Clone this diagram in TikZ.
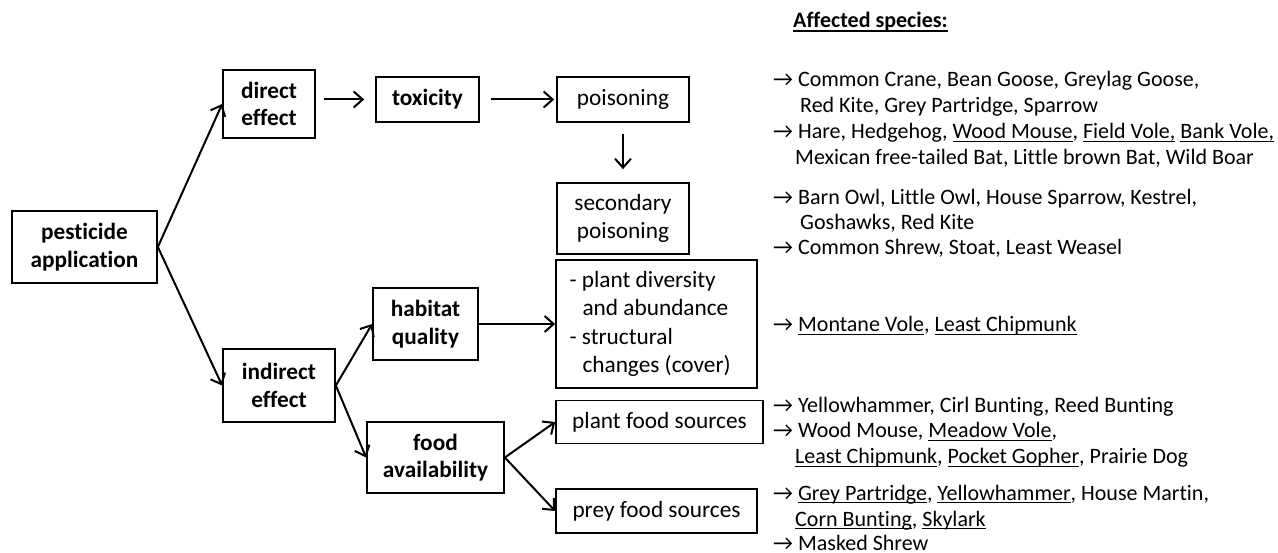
\documentclass[tikz,border=0pt]{standalone}
\usepackage{fontspec}
\setmainfont{Carlito}[Ligatures=NoCommon]
\usetikzlibrary{arrows.meta}
\newcommand\ulx[1]{\setbox0\hbox{#1}\rlap{\rule[-3.3pt]{\wd0}{1.3pt}}\box0\relax}
\newcommand\ulb[1]{\setbox0\hbox{#1}\rlap{\rule[-4pt]{\wd0}{1.8pt}}\box0\relax}
\newcommand\ra{→}
\begin{document}
\begin{tikzpicture}[x=1pt,y=-1pt,
  box/.style={draw, line width=1.7pt, inner sep=0pt, align=center, font=\fontsize{23.3}{27.5}\selectfont},
  bbox/.style={box, font=\fontsize{23.3}{27.5}\selectfont\bfseries},
  arr/.style={line width=2pt, -{Straight Barb[length=9pt,width=16pt]}},
  sp/.style={anchor=base west, inner sep=0pt, font=\fontsize{22}{26}\selectfont}]
\useasboundingbox (0,0) rectangle (1278,553);
% boxes
\node[bbox, minimum width=145pt, minimum height=72pt] (pest) at (84.5,247) {pesticide\\application};
\node[bbox, minimum width=92pt, minimum height=68pt] (direct) at (269,104) {direct\\effect};
\node[bbox, minimum width=103pt, minimum height=45pt] (tox) at (427.5,99.5) {toxicity};
\node[box, minimum width=132pt, minimum height=45pt] (pois) at (623,99.5) {poisoning};
\node[box, minimum width=132pt, minimum height=71pt] (sec) at (623,218.5) {secondary\\poisoning};
\node[bbox, minimum width=105pt, minimum height=72pt] (hab) at (425.5,324) {habitat\\quality};
\node[bbox, minimum width=112pt, minimum height=73pt] (ind) at (279,385.5) {indirect\\effect};
\node[bbox, minimum width=137pt, minimum height=71pt] (food) at (435.5,457.5) {food\\availability};
\node[box, font=\fontsize{23.3}{28.3}\selectfont, align=flush left, text width=174pt, inner xsep=13.5pt, minimum height=128pt] (pd) at (656.5,324)
  {- plant diversity\\\hspace*{13pt}and abundance\\- structural\\\hspace*{13pt}changes (cover)};
\node[box, minimum width=207pt, minimum height=43pt] (pfood) at (659.5,422) {plant food sources};
\node[box, minimum width=201pt, minimum height=44pt] (prey) at (656.5,511) {prey food sources};
% connectors
\draw[arr] (pest.east) -- (direct.west);
\draw[arr] (pest.east) -- (ind.west);
\draw[arr, shorten <=8pt, shorten >=11pt] (direct.east |- tox.west) -- (tox.west);
\draw[arr, shorten <=11pt, shorten >=2pt] (tox.east) -- (pois.west);
\draw[arr, shorten <=11pt, shorten >=13pt] (pois.south) -- (sec.north);
\draw[arr] (hab.east) -- (pd.west);
\draw[arr] (ind.east) -- (hab.west);
\draw[arr] (ind.east) -- (food.west);
\draw[arr] (food.east) -- (pfood.west);
\draw[arr] (food.east) -- (prey.west);
% species
\node[sp, font=\fontsize{22}{26}\selectfont\bfseries] (hdr) at (793,28) {\ulb{Affected species:}};
\node[sp] (s1) at (773,87) {\ra\ Common Crane, Bean Goose, Greylag Goose,};
\node[sp] (s2) at (800,113) {Red Kite, Grey Partridge, Sparrow};
\node[sp] (s3) at (773,139) {\ra\ Hare, Hedgehog, \ulx{Wood Mouse}, \ulx{Field Vole,} \ulx{Bank Vole,}};
\node[sp] (s4) at (795,165) {Mexican free-tailed Bat, Little brown Bat, Wild Boar};
\node[sp] (s5) at (773,205) {\ra\ Barn Owl, Little Owl, House Sparrow, Kestrel,};
\node[sp] (s6) at (800,230) {Goshawks, Red Kite};
\node[sp] (s7) at (773,255) {\ra\ Common Shrew, Stoat, Least Weasel};
\node[sp] (s8) at (773,332) {\ra\ \ulx{Montane Vole}, \ulx{Least Chipmunk}};
\node[sp] (s9) at (773,413) {\ra\ Yellowhammer, Cirl Bunting, Reed Bunting};
\node[sp] (s10) at (773,438) {\ra\ Wood Mouse, \ulx{Meadow Vole},};
\node[sp] (s11) at (795,464) {\ulx{Least Chipmunk}, \ulx{Pocket Gopher}, Prairie Dog};
\node[sp] (s12) at (773,500) {\ra\ \ulx{Grey Partridge}, \ulx{Yellowhammer}, House Martin,};
\node[sp] (s13) at (795,526) {\ulx{Corn Bunting}, \ulx{Skylark}};
\node[sp] (s14) at (773,550) {\ra\ Masked Shrew};
\end{tikzpicture}
\end{document}
